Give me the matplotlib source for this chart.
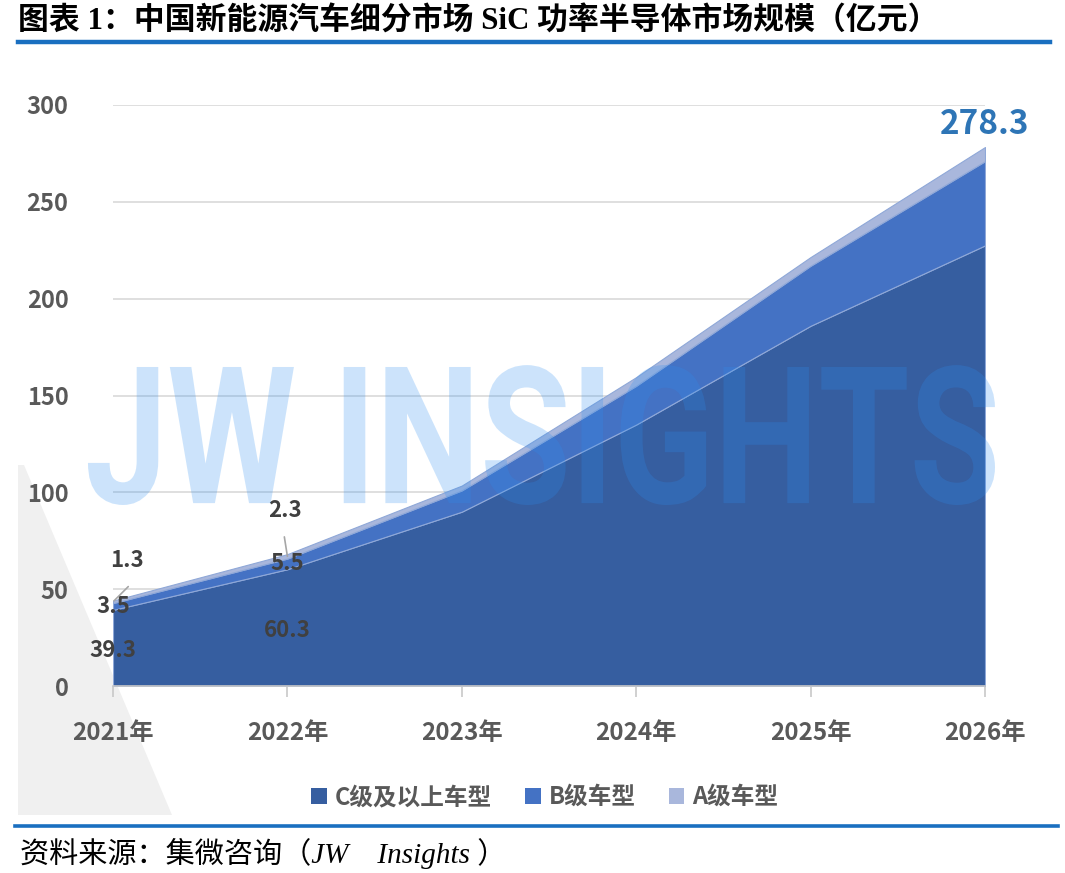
import numpy as np
import matplotlib
matplotlib.use("Agg")
import matplotlib.pyplot as plt
from matplotlib.patches import Patch, Polygon, PathPatch
from matplotlib.textpath import TextPath
from matplotlib.font_manager import FontProperties
from matplotlib.path import Path

plt.rcParams['font.family'] = ['Noto Sans CJK SC', 'DejaVu Sans']

# Data (亿元)
years = ["2021年", "2022年", "2023年", "2024年", "2025年", "2026年"]
c_class = [39.3, 60.3, 90.0, 135.0, 186.0, 227.5]
b_class = [3.5, 5.5, 11.0, 20.0, 31.0, 43.5]
a_class = [1.3, 2.3, 2.5, 4.5, 4.5, 7.3]
series_names = ["C级及以上车型", "B级车型", "A级车型"]
colors = ["#365ea0", "#4472c4", "#a9b7dc"]

W, H = 1065, 873
fig = plt.figure(figsize=(W / 100, H / 100), dpi=100)
ax = fig.add_axes([113 / W, 1 - 686 / H, 872 / W, 581 / H])

x = np.arange(len(years))
c = np.array(c_class)
b = np.array(b_class)
a = np.array(a_class)

ax.stackplot(x, c, b, a, colors=colors, edgecolor="#8fa8d8", linewidth=0.8, zorder=2)

ax.set_xlim(0, len(years) - 1)
ax.set_ylim(0, 300)
ax.set_yticks(range(0, 301, 50))
ax.grid(axis="y", color="#d9d9d9", linewidth=1.2, zorder=0)
ax.set_axisbelow(True)
for s in ["top", "right", "left"]:
    ax.spines[s].set_visible(False)
ax.spines["bottom"].set_color("#c8c8c8")
ax.spines["bottom"].set_linewidth(1.2)
ax.spines["bottom"].set_zorder(3)

ax.set_xticks(x)
ax.set_xticklabels(years)
ax.tick_params(axis="x", length=8, color="#c8c8c8", width=1.2, pad=17,
               labelsize=17.5, labelcolor="#595959")
ax.tick_params(axis="y", length=0, pad=32, labelsize=17, labelcolor="#595959")
for lab in ax.get_xticklabels() + ax.get_yticklabels():
    lab.set_fontweight("bold")

# data labels for first two years
lab_kw = dict(ha="center", va="center", fontsize=16, color="#404040", fontweight="bold", zorder=6)
for i in range(2):
    ax.text(x[i], c[i] / 2 - 1.5, f"{c_class[i]}", **lab_kw)
    ax.text(x[i], c[i] + b[i] / 2, f"{b_class[i]}", **lab_kw)

# A-class labels with leader lines
a_top = c + b + a / 2
ax.annotate(f"{a_class[0]}", xy=(x[0], a_top[0]), xytext=(10, 30),
            textcoords="offset points", **lab_kw)
ax.annotate("", xy=(x[0], a_top[0]), xytext=(11, 11), textcoords="offset points",
            arrowprops=dict(arrowstyle="-", color="#a6a6a6", lw=1.2, shrinkA=0, shrinkB=1),
            zorder=6)
ax.annotate(f"{a_class[1]}", xy=(x[1], a_top[1]), xytext=(-2, 33),
            textcoords="offset points", **lab_kw)
ax.annotate("", xy=(x[1], a_top[1]), xytext=(-2.2, 14), textcoords="offset points",
            arrowprops=dict(arrowstyle="-", color="#a6a6a6", lw=1.2, shrinkA=0, shrinkB=0),
            zorder=6)

total_last = c[-1] + b[-1] + a[-1]
ax.annotate(f"{total_last:.1f}", xy=(x[-1], total_last), xytext=(0, 16), textcoords="offset points",
            ha="center", va="center", fontsize=24, color="#2e75b6", fontweight="bold",
            annotation_clip=False, zorder=6)

# legend
handles = [Patch(facecolor=col, edgecolor="none") for col in colors]
leg = fig.legend(handles, series_names, loc="center", bbox_to_anchor=(545 / W, 1 - 797 / H),
                 ncol=3, frameon=False, fontsize=17, handlelength=0.65, handleheight=0.65,
                 handletextpad=0.35, columnspacing=1.4)
for t in leg.get_texts():
    t.set_color("#595959")
    t.set_fontweight("bold")

# grey corner shape at lower left
fig.add_artist(Polygon([(18 / W, 1 - 465 / H), (24 / W, 1 - 465 / H), (172 / W, 1 - 815 / H),
                        (18 / W, 1 - 815 / H)], closed=True, transform=fig.transFigure,
                       facecolor="#f0f0f0", edgecolor="none", zorder=-5))

# watermark
tp = TextPath((0, 0), "JW INSIGHTS", size=100,
              prop=FontProperties(family="Roboto", weight="bold"))
v = tp.vertices.copy()
x0, x1 = v[:, 0].min(), v[:, 0].max()
y0, y1 = v[:, 1].min(), v[:, 1].max()
v[:, 0] = (85 + (v[:, 0] - x0) / (x1 - x0) * 910) / W
v[:, 1] = 1 - (505 - (v[:, 1] - y0) / (y1 - y0) * 140) / H
fig.add_artist(PathPatch(Path(v, tp.codes), transform=fig.transFigure,
                         facecolor="#2b8ef2", edgecolor="none", alpha=0.24, zorder=10))

# title, rules and source
fig.text(18 / W, 1 - 22 / H, "图表 1：中国新能源汽车细分市场 SiC 功率半导体市场规模（亿元）",
         ha="left", va="center", fontsize=22.2, fontweight="bold", color="black",
         family=["Liberation Serif", "Noto Sans CJK SC"])
fig.add_artist(plt.Line2D([18 / W, 1050 / W], [1 - 42 / H, 1 - 42 / H], transform=fig.transFigure,
                          color="#1a6fc0", linewidth=3.2))
fig.add_artist(plt.Line2D([15 / W, 1058 / W], [1 - 826 / H, 1 - 826 / H], transform=fig.transFigure,
                          color="#1a6fc0", linewidth=2.6))
fig.text(20 / W, 1 - 853 / H, "资料来源：集微咨询（JW    Insights ）", ha="left", va="center",
         fontsize=21, style="italic", color="black",
         family=["Liberation Serif", "Noto Sans CJK SC"])

fig.savefig("out.png", dpi=100)
